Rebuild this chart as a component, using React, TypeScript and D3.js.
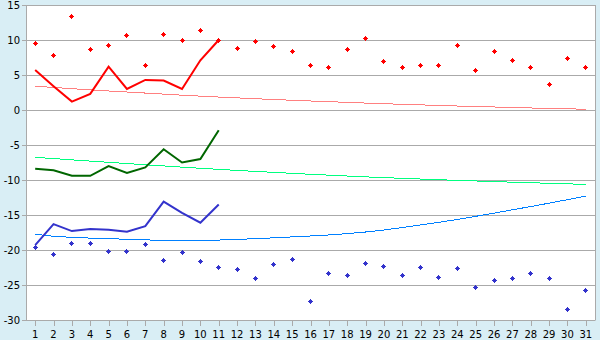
import React from "react";
import * as d3 from "d3";

const days = d3.range(1, 32).map(String);
const yTicks = [15, 10, 5, 0, -5, -10, -15, -20, -25, -30];

// Red: maxima (points), current-year line (days 1-11), trend
const redPoints = [9.5, 7.8, 13.4, 8.7, 9.2, 10.7, 6.4, 10.8, 10.0, 11.4, 10.0, 8.8, 9.8, 9.0, 8.4, 6.4, 6.0, 8.7, 10.2, 7.0, 6.0, 6.4, 6.4, 9.2, 5.7, 8.4, 7.1, 6.0, 3.7, 7.4, 6.0];
const redLine = [5.7, 3.4, 1.2, 2.3, 6.2, 3.0, 4.3, 4.2, 3.0, 7.1, 10.0];
const redTrend = [3.4, 3.22, 3.05, 2.88, 2.72, 2.57, 2.42, 2.27, 2.12, 1.98, 1.85, 1.73, 1.61, 1.5, 1.39, 1.29, 1.19, 1.09, 0.99, 0.9, 0.81, 0.73, 0.65, 0.57, 0.5, 0.43, 0.36, 0.29, 0.23, 0.17, 0.11];

// Green: mean line (days 1-11), trend
const greenLine = [-8.4, -8.6, -9.4, -9.4, -8.0, -9.0, -8.2, -5.6, -7.5, -7.0, -2.9];
const greenTrend = [-6.76, -6.94, -7.12, -7.3, -7.47, -7.65, -7.82, -7.99, -8.16, -8.33, -8.48, -8.63, -8.77, -8.91, -9.05, -9.18, -9.31, -9.43, -9.55, -9.66, -9.76, -9.86, -9.96, -10.05, -10.14, -10.23, -10.31, -10.39, -10.47, -10.55, -10.62];

// Blue: minima (points), line (days 1-11), trend
const bluePoints = [-19.6, -20.6, -19.0, -19.0, -20.2, -20.2, -19.2, -21.5, -20.3, -21.6, -22.5, -22.8, -24.0, -22.1, -21.3, -27.3, -23.4, -23.6, -21.9, -22.3, -23.6, -22.5, -23.9, -22.7, -25.3, -24.3, -24.0, -23.3, -24.0, -28.5, -25.8];
const blueLine = [-19.3, -16.3, -17.3, -17.0, -17.1, -17.4, -16.6, -13.1, -14.7, -16.1, -13.5];
const blueTrend = [-17.76, -18.04, -18.19, -18.3, -18.38, -18.47, -18.56, -18.61, -18.62, -18.62, -18.58, -18.49, -18.38, -18.26, -18.13, -18.0, -17.85, -17.66, -17.43, -17.14, -16.79, -16.42, -16.05, -15.63, -15.19, -14.73, -14.26, -13.79, -13.31, -12.81, -12.29];

const W = 600;
const H = 340;
const left = 26;
const right = 595;
const top = 5;
const bottom = 320;

export default function App() {
  const x = d3.scaleBand<string>().domain(days).range([left, right]).padding(0);
  const cx = (i: number) => (x(days[i]) as number) + x.bandwidth() / 2;
  const y = d3.scaleLinear().domain([-30, 15]).range([bottom, top]);

  const line = d3
    .line<number>()
    .x((_, i) => cx(i))
    .y((v) => y(v));

  // pixel diamond marker: rows 1,3,5,3,1
  const marker = (px: number, py: number) => {
    const L = Math.floor(px) - 2;
    const T = Math.floor(py) - 2;
    return `M${L + 2},${T}h1v1h1v1h1v1h-1v1h-1v1h-1v-1h-1v-1h-1v-1h1v-1h1Z`;
  };

  const grid = "#aaaaaa";
  const font = "'DejaVu Sans', Verdana, sans-serif";

  return (
    <svg
      width={W}
      height={H}
      style={{ position: "absolute", left: 0, top: 0, display: "block" }}
    >
      <rect x={0} y={0} width={W} height={H} fill="#d9eef5" />
      <rect x={left} y={top} width={right - left} height={bottom - top} fill="#ffffff" />
      {yTicks.map((t) => (
        <g key={t}>
          <line x1={left - 4} x2={right} y1={Math.round(y(t)) + 0.5} y2={Math.round(y(t)) + 0.5} stroke={grid} strokeWidth={1} />
          <text
            x={left - 6}
            y={y(t)}
            dy="0.36em"
            textAnchor="end"
            fontFamily={font}
            fontSize={10}
            fill="#000"
          >
            {t < 0 ? `-${Math.abs(t)}` : `${t}`}
          </text>
        </g>
      ))}
      <line x1={left + 0.5} x2={left + 0.5} y1={top} y2={bottom + 0.5} stroke={grid} />
      <line x1={right + 0.5} x2={right + 0.5} y1={top} y2={bottom + 0.5} stroke={grid} />
      {days.map((d, i) => (
        <g key={d}>
          <line
            x1={Math.round(cx(i)) + 0.5}
            x2={Math.round(cx(i)) + 0.5}
            y1={bottom}
            y2={bottom + 6}
            stroke={grid}
          />
          <text
            x={cx(i)}
            y={338}
            textAnchor="middle"
            fontFamily={font}
            fontSize={10}
            fill="#000"
          >
            {d}
          </text>
        </g>
      ))}

      <path d={line(redTrend) || ""} fill="none" stroke="#ff8080" strokeWidth={1} shapeRendering="crispEdges" />
      <path d={line(greenTrend) || ""} fill="none" stroke="#00ff80" strokeWidth={1} shapeRendering="crispEdges" />
      <path d={line(blueTrend) || ""} fill="none" stroke="#0080ff" strokeWidth={1} shapeRendering="crispEdges" />

      <path d={line(redLine) || ""} fill="none" stroke="#ff0000" strokeWidth={2} />
      <path d={line(greenLine) || ""} fill="none" stroke="#006600" strokeWidth={2} />
      <path d={line(blueLine) || ""} fill="none" stroke="#3333cc" strokeWidth={2} />

      {redPoints.map((v, i) => (
        <path key={`r${i}`} d={marker(cx(i), y(v))} fill="#ff0000" shapeRendering="crispEdges" />
      ))}
      {bluePoints.map((v, i) => (
        <path key={`b${i}`} d={marker(cx(i), y(v))} fill="#3333cc" shapeRendering="crispEdges" />
      ))}
    </svg>
  );
}
